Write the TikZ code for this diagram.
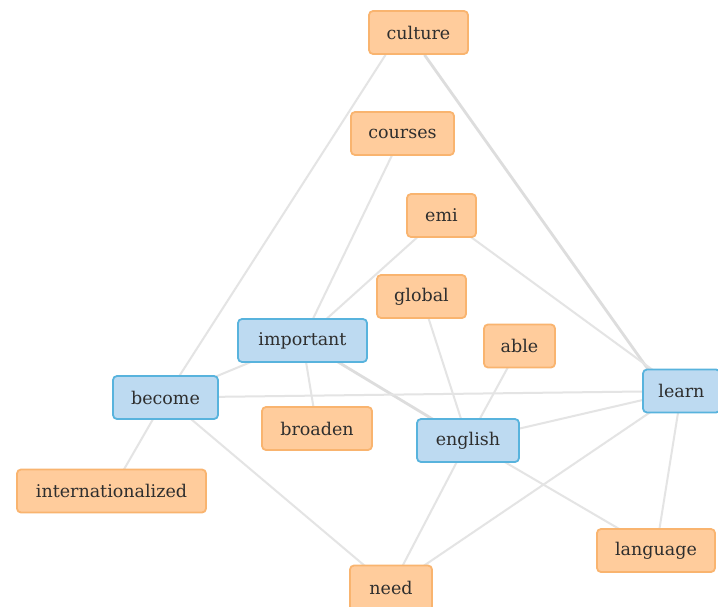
\documentclass[tikz,border=0pt]{standalone}
\usepackage{fontspec}
\setmainfont{DejaVu Serif}
\usetikzlibrary{backgrounds}
\definecolor{termfill}{HTML}{FFCC9C}
\definecolor{termline}{HTML}{F9B46F}
\definecolor{keyfill}{HTML}{BDDAF1}
\definecolor{keyline}{HTML}{58B3DD}
\definecolor{linkgray}{HTML}{E4E4E4}
\definecolor{linkdark}{HTML}{DDDDDD}
\definecolor{labeltext}{HTML}{2E2E2E}
\tikzset{
  word/.style={rounded corners=4pt, line width=1.8pt, minimum height=43pt,
    inner sep=0pt, text=labeltext, font=\fontsize{17.5}{20}\selectfont},
  term/.style={word, fill=termfill, draw=termline},
  keyword/.style={word, fill=keyfill, draw=keyline},
  link/.style={draw=linkgray, line width=2pt},
  strong/.style={draw=linkdark, line width=2.8pt}
}
\begin{document}
\begin{tikzpicture}[x=1pt,y=-1pt]
\useasboundingbox (0,0) rectangle (718,607);

% term nodes
\node[term, minimum width=99pt]  (culture) at (418.5,32.5) {culture};
\node[term, minimum width=103pt] (courses) at (402.5,133.5) {courses};
\node[term, minimum width=69pt]  (emi) at (441.5,215.5) {emi};
\node[term, minimum width=89pt]  (global) at (421.5,296.5) {global};
\node[term, minimum width=71pt]  (able) at (519.5,346) {able};
\node[term, minimum width=110pt] (broaden) at (317,428.5) {broaden};
\node[term, minimum width=189pt] (internationalized) at (111.5,491) {internationalized};
\node[term, minimum width=118pt] (language) at (656,550.5) {language};
\node[term, minimum width=82pt, minimum height=45pt] (need) at (391,588) {need};

% keyword nodes
\node[keyword, minimum width=129pt] (important) at (302.5,340.5) {important};
\node[keyword, minimum width=105pt] (become) at (165.5,397.5) {become};
\node[keyword, minimum width=102pt] (english) at (468,440.5) {english};
\node[keyword, minimum width=77pt]  (learn) at (681.5,391) {learn};

% white page and connections, drawn behind the boxes
\begin{pgfonlayer}{background}
\fill[white] (0,0) rectangle (718,607);
\draw[link] ([xshift=-33pt]culture.south) -- (become.center);
\draw[strong] ([xshift=6pt]culture.south) -- ([xshift=-18pt]learn.center);
\draw[link] (courses.center) -- (important.center);
\draw[link] (emi.center) -- (important.center);
\draw[link] (emi.center) -- (learn.center);
\draw[link] (global.center) -- (english.center);
\draw[link] (able.center) -- (english.center);
\draw[link] (important.center) -- (become.center);
\draw[link] (important.center) -- (broaden.center);
\draw[strong] (important.center) -- (english.center);
\draw[link] (become.center) -- (learn.center);
\draw[link] (become.center) -- (internationalized.center);
\draw[link] (become.center) -- (need.center);
\draw[link] (english.center) -- (learn.center);
\draw[link] (english.center) -- (need.center);
\draw[link] (english.center) -- (language.center);
\draw[link] (learn.center) -- (need.center);
\draw[link] (learn.center) -- (language.center);
\end{pgfonlayer}
\end{tikzpicture}
\end{document}
